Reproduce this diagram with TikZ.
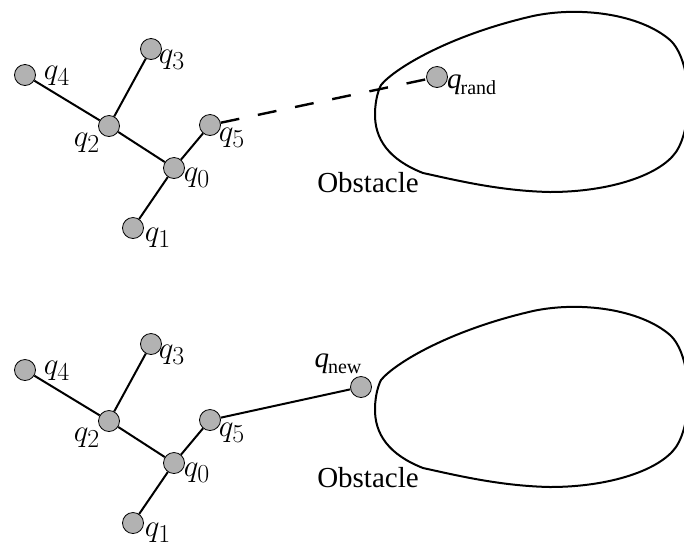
\documentclass[tikz,border=0pt]{standalone}
\usepackage{fontspec}
\newfontfamily\tms{Liberation Serif}
\begin{document}
\begin{tikzpicture}[x=1pt,y=-1pt,
  vtx/.style={circle,draw=black,line width=0.8pt,fill=gray!60,minimum size=21pt,inner sep=0pt},
  edge/.style={line width=2pt},
  lbl/.style={inner sep=0pt,font=\fontsize{24.88}{30}\selectfont,scale=1.25},
  tlbl/.style={inner sep=0pt,font=\tms\fontsize{29}{34}\selectfont},
  obst/.style={line width=2pt}]
\useasboundingbox (0,0) rectangle (684,547);
% obstacles
\foreach \dy in {0,295}{
  \draw[obst,shift={(0,\dy)}] (381,85)
    .. controls (395,68) and (450,35) .. (533,16)
    .. controls (580,6) and (640,14) .. (670,40)
    .. controls (692,60) and (694,125) .. (676,152)
    .. controls (660,175) and (610,192) .. (550,192)
    .. controls (500,191) and (455,180) .. (423,173)
    .. controls (390,160) and (374,140) .. (375,112)
    .. controls (375.5,100) and (378,91) .. cycle;
}
% top tree
\node[vtx] (a4) at (25,75) {};
\node[vtx] (a3) at (151,49) {};
\node[vtx] (a2) at (109,126) {};
\node[vtx] (a5) at (210,125) {};
\node[vtx] (a0) at (174,168) {};
\node[vtx] (a1) at (133,228) {};
\node[vtx] (ar) at (437,77) {};
\node[lbl] (la4) at (57,76) {$q_4$};
\node[lbl] (la3) at (172,60) {$q_3$};
\node[lbl] (la2) at (87,143) {$q_2$};
\node[lbl] (la5) at (232,138) {$q_5$};
\node[lbl] (la0) at (197,178) {$q_0$};
\node[lbl] (la1) at (158,238) {$q_1$};
\node[tlbl,anchor=west] (lar) at (447,85) {\itshape q\kern-1pt\raisebox{-0.22em}{\upshape\fontsize{20}{24}\selectfont rand}};
\node[tlbl] (ob1) at (368,183) {Obstacle};
\draw[edge] (a4) -- (a2);
\draw[edge] (a3) -- (a2);
\draw[edge] (a2) -- (a0);
\draw[edge] (a0) -- (a5);
\draw[edge] (a0) -- (a1);
\draw[edge,line width=2.4pt,dash pattern=on 19pt off 19pt] (a5) -- (ar);
% bottom tree
\node[vtx] (b4) at (25,370) {};
\node[vtx] (b3) at (151,344) {};
\node[vtx] (b2) at (109,421) {};
\node[vtx] (b5) at (210,420) {};
\node[vtx] (b0) at (174,463) {};
\node[vtx] (b1) at (133,523) {};
\node[vtx] (bn) at (361,387) {};
\node[lbl] (lb4) at (57,371) {$q_4$};
\node[lbl] (lb3) at (172,355) {$q_3$};
\node[lbl] (lb2) at (87,438) {$q_2$};
\node[lbl] (lb5) at (232,433) {$q_5$};
\node[lbl] (lb0) at (197,473) {$q_0$};
\node[lbl] (lb1) at (158,533) {$q_1$};
\node[tlbl] (lbn) at (338,364) {\itshape q\kern-1pt\raisebox{-0.22em}{\upshape\fontsize{20}{24}\selectfont new}};
\node[tlbl] (ob2) at (368,478) {Obstacle};
\draw[edge] (b4) -- (b2);
\draw[edge] (b3) -- (b2);
\draw[edge] (b2) -- (b0);
\draw[edge] (b0) -- (b5);
\draw[edge] (b0) -- (b1);
\draw[edge] (b5) -- (bn);
\end{tikzpicture}
\end{document}
